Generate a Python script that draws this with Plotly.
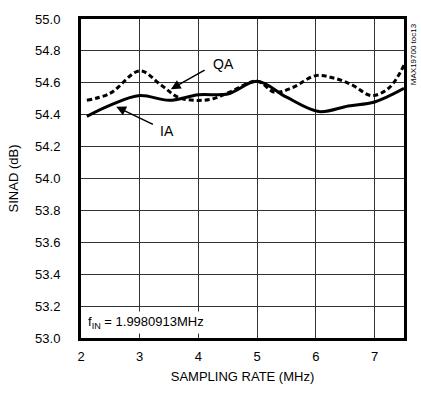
import plotly.graph_objects as go

# Sampling rate (MHz) and SINAD (dB) readings
ia_x = [2.1, 2.5, 3.0, 3.5, 4.0, 4.5, 5.0, 5.5, 6.05, 6.55, 7.0, 7.5]
ia_y = [54.39, 54.46, 54.52, 54.49, 54.525, 54.53, 54.61, 54.51, 54.42, 54.455, 54.48, 54.565]

qa_x = [2.1, 2.5, 3.0, 3.35, 3.65, 3.95, 4.25, 4.55, 5.0, 5.3, 5.6, 6.0, 6.3, 6.6, 6.95, 7.25, 7.5]
qa_y = [54.49, 54.535, 54.675, 54.59, 54.51, 54.49, 54.5, 54.545, 54.61, 54.54, 54.57, 54.645, 54.63, 54.59, 54.52, 54.57, 54.71]

x_ticks = [2, 3, 4, 5, 6, 7]
y_ticks = [53.0, 53.2, 53.4, 53.6, 53.8, 54.0, 54.2, 54.4, 54.6, 54.8, 55.0]

FONT = "Liberation Sans, Arial, sans-serif"

fig = go.Figure()
fig.add_trace(go.Scatter(x=qa_x, y=qa_y, mode="lines", name="QA",
                         line=dict(color="black", width=3, dash="5px,3px", shape="spline", smoothing=1.0)))
fig.add_trace(go.Scatter(x=ia_x, y=ia_y, mode="lines", name="IA",
                         line=dict(color="black", width=3, shape="spline", smoothing=1.0)))

fig.update_layout(
    width=421, height=400,
    margin=dict(l=79, r=17, t=14, b=62),
    paper_bgcolor="white", plot_bgcolor="white",
    showlegend=False,
    font=dict(family=FONT, size=13, color="black"),
    xaxis=dict(range=[2, 7.5], tickvals=x_ticks, ticktext=[str(v) for v in x_ticks],
               showgrid=True, gridcolor="#333", gridwidth=1,
               showline=True, linecolor="black", linewidth=3, mirror=True,
               ticks="", zeroline=False, ticklabelstandoff=4,
               title=dict(text="SAMPLING RATE (MHz)", font=dict(size=13), standoff=10)),
    yaxis=dict(range=[53.0, 55.0], tickvals=y_ticks, ticktext=[f"{v:.1f}" for v in y_ticks],
               showgrid=True, gridcolor="#333", gridwidth=1,
               showline=True, linecolor="black", linewidth=3, mirror=True,
               ticks="", zeroline=False, ticklabelstandoff=15,
               title=dict(text="SINAD (dB)", font=dict(size=13), standoff=14)),
)

fig.add_annotation(x=3.53, y=54.56, ax=4.13, ay=54.685, xref="x", yref="y", axref="x", ayref="y",
                   text="", showarrow=True, arrowhead=2, arrowsize=1.3, arrowwidth=1.5, arrowcolor="black")
fig.add_annotation(x=4.43, y=54.72, xref="x", yref="y", text="QA", showarrow=False,
                   font=dict(size=14))
fig.add_annotation(x=2.6, y=54.45, ax=3.25, ay=54.335, xref="x", yref="y", axref="x", ayref="y",
                   text="", showarrow=True, arrowhead=2, arrowsize=1.3, arrowwidth=1.5, arrowcolor="black")
fig.add_annotation(x=3.47, y=54.30, xref="x", yref="y", text="IA", showarrow=False,
                   font=dict(size=14))
fig.add_annotation(x=0.012, y=0.012, xref="paper", yref="paper", xanchor="left", yanchor="bottom",
                   text="f<sub>IN</sub> = 1.9980913MHz", showarrow=False, bgcolor="white",
                   font=dict(size=13), borderpad=2)
fig.add_annotation(x=1.0, y=0.99, xref="paper", yref="paper", xanchor="center", yanchor="top",
                   xshift=9, text="MAX19700 toc13", textangle=-90, showarrow=False,
                   font=dict(size=8), borderpad=0)

fig.write_html("out.html", config={"displayModeBar": False},
               post_script="document.body.style.margin='0';document.body.style.overflow='hidden';")
